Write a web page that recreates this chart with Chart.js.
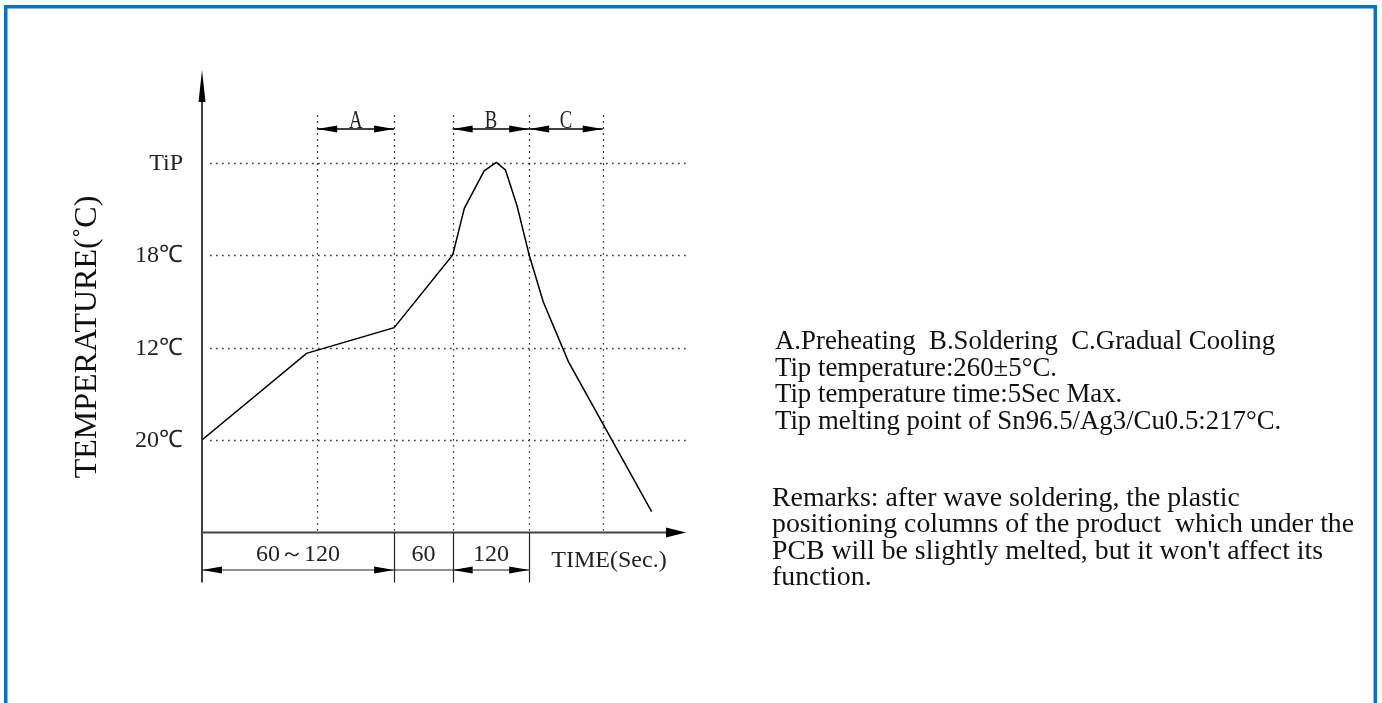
<!DOCTYPE html>
<html>
<head>
<meta charset="utf-8">
<script src="https://cdn.jsdelivr.net/npm/chart.js@4.4.1/dist/chart.umd.min.js"></script>
<style>
html,body{margin:0;padding:0;background:#fff;overflow:hidden;}
canvas{display:block;}
</style>
</head>
<body>
<canvas id="c" width="1382" height="703"></canvas>
<script>
// ---- data (time in arbitrary units 0..100, temperature in grid levels 0..5) ----
const timeValues = [0, 21.6, 39.7, 51.8, 54.2, 58.3, 60.8, 62.7, 65.1, 67.6, 70.5, 75.7, 92.9];
const tempValues = [1.0, 1.937, 2.214, 3.0, 3.505, 3.91, 4.0, 3.92, 3.53, 3.0, 2.495, 1.847, 0.225];
const yTickValues = [1, 2, 3, 4];
const yTickLabels = ['20℃', '12℃', '18℃', 'TiP'];
const xGridValues = [23.8, 39.7, 51.8, 67.6, 82.8];
const phaseLabels = ['A', 'B', 'C'];
const phaseStart = [23.8, 51.8, 67.6];
const phaseEnd = [39.7, 67.6, 82.8];
const spanLabels = ['60～120', '60', '120'];
const spanStart = [0, 39.7, 51.8];
const spanEnd = [39.7, 51.8, 67.6];
const spanArrows = [true, false, true];
const xAxisTitle = 'TIME(Sec.)';
const yAxisTitle = 'TEMPERATURE(˚C)';
const noteLines = [
  'A.Preheating  B.Soldering  C.Gradual Cooling',
  'Tip temperature:260±5°C.',
  'Tip temperature time:5Sec Max.',
  'Tip melting point of Sn96.5/Ag3/Cu0.5:217°C.'
];
const remarkLines = [
  'Remarks: after wave soldering, the plastic',
  "positioning columns of the product  which under the",
  "PCB will be slightly melted, but it won't affect its",
  'function.'
];

function arrowHead(ctx, tipX, tipY, dir, len, half) {
  ctx.beginPath();
  if (dir === 'left') {
    ctx.moveTo(tipX, tipY); ctx.lineTo(tipX + len, tipY - half); ctx.lineTo(tipX + len, tipY + half);
  } else if (dir === 'right') {
    ctx.moveTo(tipX, tipY); ctx.lineTo(tipX - len, tipY - half); ctx.lineTo(tipX - len, tipY + half);
  } else {
    ctx.moveTo(tipX, tipY); ctx.lineTo(tipX - half, tipY + len); ctx.lineTo(tipX + half, tipY + len);
  }
  ctx.closePath();
  ctx.fill();
}

const decor = {
  id: 'decor',
  beforeDatasetsDraw(chart) {
    const ctx = chart.ctx;
    const xs = chart.scales.x, ys = chart.scales.y;
    ctx.save();
    ctx.strokeStyle = '#000';
    ctx.lineWidth = 1.3;
    ctx.setLineDash([1.3, 4.7]);
    yTickValues.forEach(v => {
      const y = Math.round(ys.getPixelForValue(v)) + 0.5;
      ctx.beginPath();
      ctx.moveTo(xs.getPixelForValue(1.7), y);
      ctx.lineTo(xs.getPixelForValue(100.2), y);
      ctx.stroke();
    });
    xGridValues.forEach(v => {
      const x = Math.round(xs.getPixelForValue(v)) + 0.5;
      ctx.beginPath();
      ctx.moveTo(x, ys.getPixelForValue(4.51));
      ctx.lineTo(x, ys.getPixelForValue(0));
      ctx.stroke();
    });
    ctx.restore();
  },
  afterDraw(chart) {
    const ctx = chart.ctx;
    const xs = chart.scales.x, ys = chart.scales.y;
    const x0 = xs.getPixelForValue(0);
    const y0 = ys.getPixelForValue(0);
    ctx.save();
    ctx.setLineDash([]);
    // y axis
    ctx.strokeStyle = '#000';
    ctx.fillStyle = '#000';
    ctx.lineWidth = 1.5;
    ctx.beginPath();
    ctx.moveTo(x0, ys.getPixelForValue(5) + 30);
    ctx.lineTo(x0, y0 + 50);
    ctx.stroke();
    arrowHead(ctx, x0, ys.getPixelForValue(5), 'up', 32, 3.5);
    // x axis
    ctx.strokeStyle = '#444';
    ctx.lineWidth = 2;
    ctx.beginPath();
    ctx.moveTo(x0, y0);
    ctx.lineTo(xs.getPixelForValue(100) - 18, y0);
    ctx.stroke();
    arrowHead(ctx, xs.getPixelForValue(100), y0, 'right', 20, 5);

    // y tick labels
    ctx.fillStyle = '#222';
    ctx.font = '24px "Liberation Serif", serif';
    ctx.textAlign = 'right';
    ctx.textBaseline = 'middle';
    yTickValues.forEach((v, i) => {
      ctx.fillText(yTickLabels[i], x0 - 19, ys.getPixelForValue(v) + 1);
    });

    // y axis title
    ctx.save();
    ctx.translate(88, 337);
    ctx.rotate(-Math.PI / 2);
    ctx.font = '32px "Liberation Serif", serif';
    ctx.textAlign = 'center';
    ctx.textBaseline = 'middle';
    ctx.fillStyle = '#111';
    ctx.fillText(yAxisTitle, 0, 0);
    ctx.restore();

    // top phase dimension arrows
    const yTop = ys.getPixelForValue(4.362);
    ctx.strokeStyle = '#000';
    ctx.fillStyle = '#000';
    ctx.lineWidth = 1.5;
    phaseLabels.forEach((lab, i) => {
      const a = xs.getPixelForValue(phaseStart[i]);
      const b = xs.getPixelForValue(phaseEnd[i]);
      ctx.beginPath();
      ctx.moveTo(a, yTop); ctx.lineTo(b, yTop); ctx.stroke();
      arrowHead(ctx, a, yTop, 'left', 20, 3.5);
      arrowHead(ctx, b, yTop, 'right', 20, 3.5);
      ctx.save();
      ctx.fillStyle = '#222';
      ctx.font = '25px "Liberation Serif", serif';
      ctx.textAlign = 'center';
      ctx.textBaseline = 'alphabetic';
      ctx.translate((a + b) / 2, yTop - 1);
      ctx.scale(0.75, 1);
      ctx.fillText(lab, 0, 0);
      ctx.restore();
    });

    // bottom span dimensions
    const yDim = y0 + 37.5;
    ctx.strokeStyle = '#222';
    ctx.lineWidth = 1.2;
    spanEnd.forEach(v => {
      const x = Math.round(xs.getPixelForValue(v)) + 0.5;
      ctx.beginPath();
      ctx.moveTo(x, y0);
      ctx.lineTo(x, y0 + 50);
      ctx.stroke();
    });
    ctx.beginPath();
    ctx.moveTo(x0, yDim);
    ctx.lineTo(xs.getPixelForValue(spanEnd[spanEnd.length - 1]), yDim);
    ctx.stroke();
    ctx.fillStyle = '#000';
    spanLabels.forEach((lab, i) => {
      const a = xs.getPixelForValue(spanStart[i]);
      const b = xs.getPixelForValue(spanEnd[i]);
      if (spanArrows[i]) {
        arrowHead(ctx, a, yDim, 'left', 20, 3.5);
        arrowHead(ctx, b, yDim, 'right', 20, 3.5);
      }
      ctx.save();
      ctx.fillStyle = '#222';
      ctx.font = '24px "Liberation Serif", serif';
      ctx.textAlign = 'center';
      ctx.textBaseline = 'middle';
      ctx.fillText(lab, (a + b) / 2, y0 + 22);
      ctx.restore();
    });
    ctx.fillStyle = '#222';
    ctx.font = '24px "Liberation Serif", serif';
    ctx.textAlign = 'center';
    ctx.textBaseline = 'middle';
    ctx.fillText(xAxisTitle, 609, y0 + 28);

    // notes on the right
    ctx.fillStyle = '#111';
    ctx.font = '26.8px "Liberation Serif", serif';
    ctx.textAlign = 'left';
    ctx.textBaseline = 'alphabetic';
    noteLines.forEach((t, i) => ctx.fillText(t, 775, 349 + i * 26.6));
    ctx.font = '27.8px "Liberation Serif", serif';
    remarkLines.forEach((t, i) => ctx.fillText(t, 772, 506 + i * 26.4));

    // blue frame
    ctx.strokeStyle = '#0a72c6';
    ctx.lineWidth = 3.5;
    ctx.strokeRect(5.75, 6.75, 1369.5, 800);
    ctx.restore();
  }
};

new Chart(document.getElementById('c'), {
  type: 'line',
  data: {
    datasets: [{
      data: timeValues.map((t, i) => ({ x: t, y: tempValues[i] })),
      borderColor: '#000',
      borderWidth: 1.5,
      pointRadius: 0,
      tension: 0,
      fill: false
    }]
  },
  options: {
    responsive: false,
    animation: false,
    events: [],
    layout: { padding: { left: 202, right: 696, top: 70, bottom: 170.5 } },
    scales: {
      x: { type: 'linear', min: 0, max: 100, display: false },
      y: { type: 'linear', min: 0, max: 5, display: false }
    },
    plugins: { legend: { display: false }, tooltip: { enabled: false } }
  },
  plugins: [decor]
});
</script>
</body>
</html>
